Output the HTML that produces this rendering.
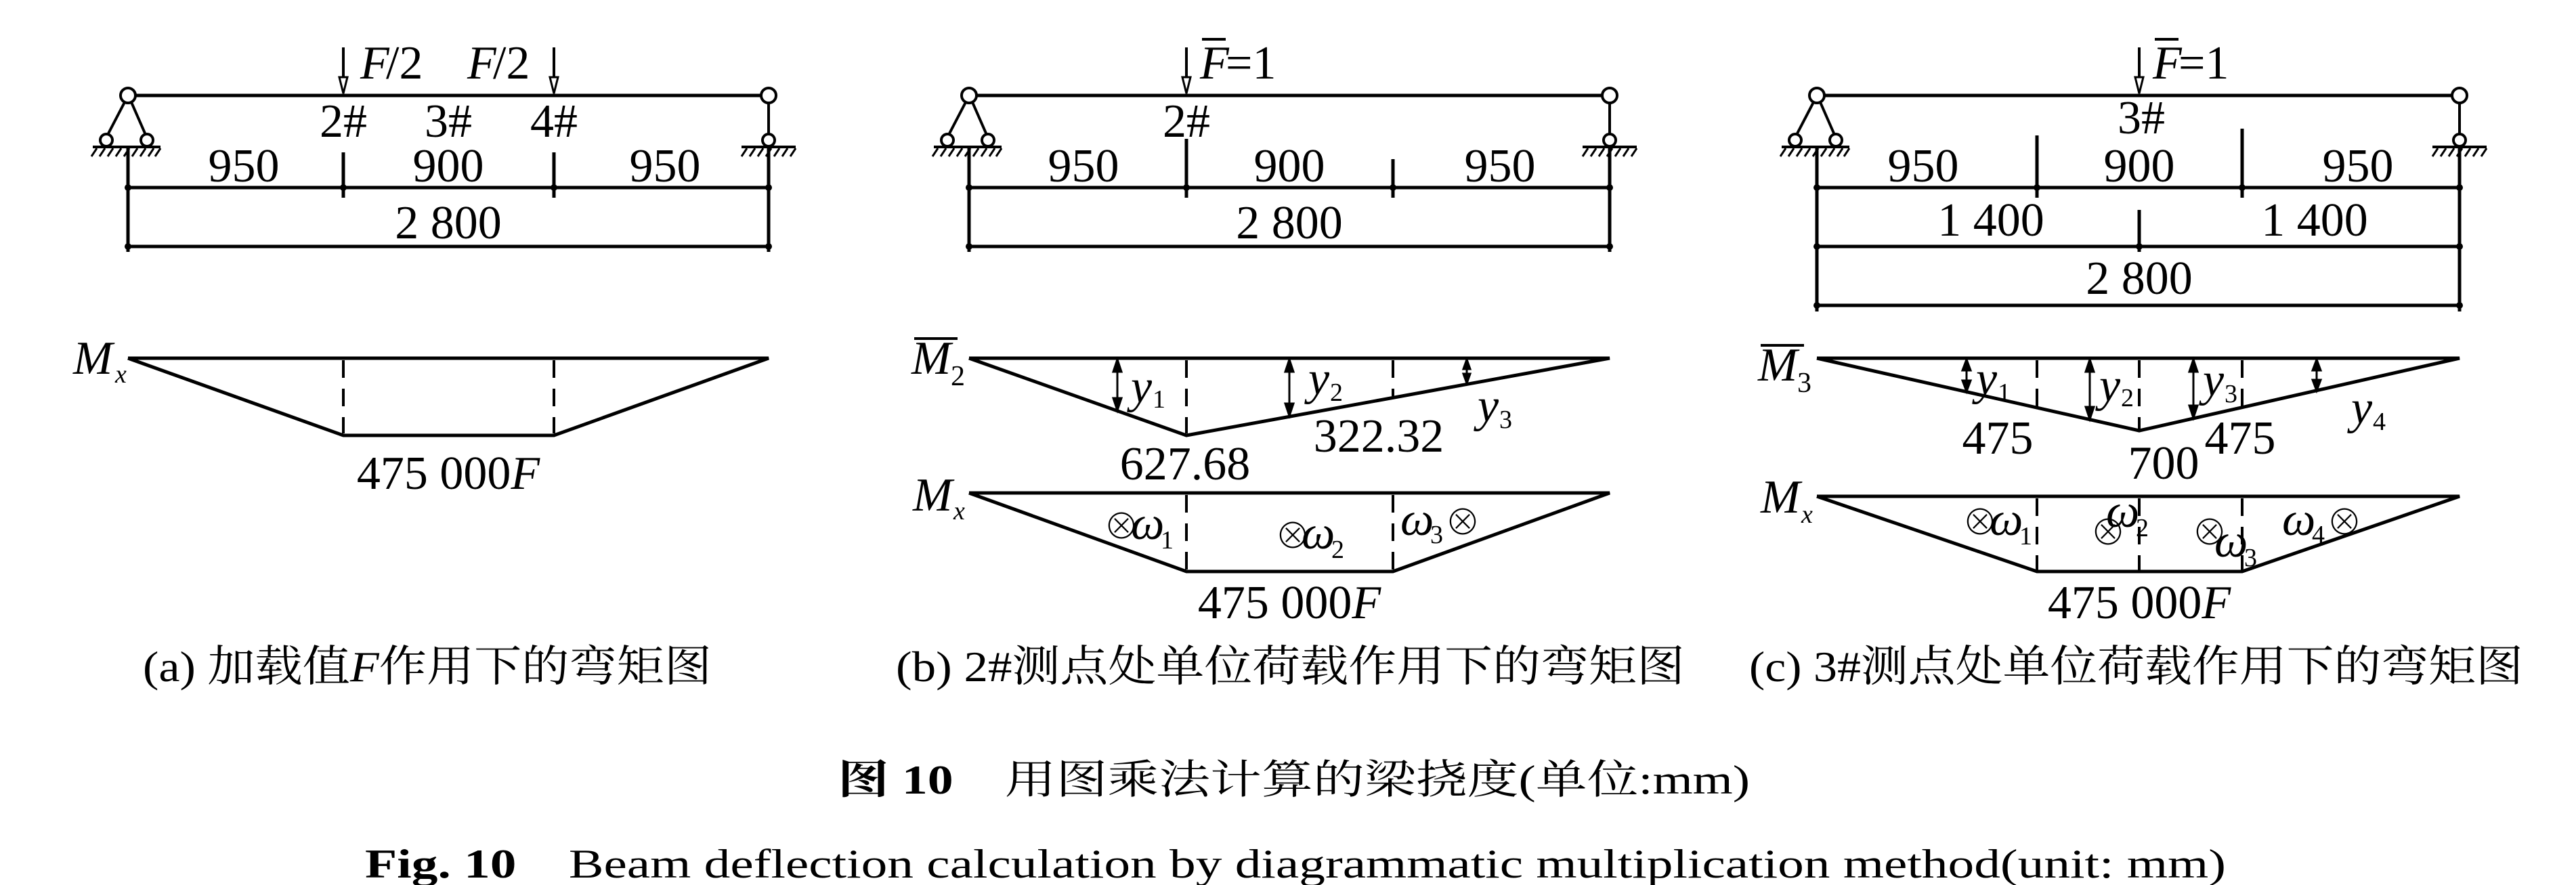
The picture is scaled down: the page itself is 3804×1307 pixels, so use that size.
<!DOCTYPE html>
<html><head><meta charset="utf-8"><style>
html,body{margin:0;padding:0;background:#fff;}
svg{display:block;}
text{font-family:"Liberation Serif","Noto Serif CJK SC",serif;fill:#000;}
.i{font-style:italic;}
</style></head><body>
<svg width="3804" height="1307" viewBox="0 0 3804 1307" xmlns="http://www.w3.org/2000/svg">
<defs>
<g id="pin">
 <circle cx="0" cy="0" r="11" fill="#fff" stroke="#000" stroke-width="4"/>
 <line x1="-5" y1="10" x2="-30" y2="58" stroke="#000" stroke-width="4"/>
 <line x1="5" y1="10" x2="26" y2="58" stroke="#000" stroke-width="4"/>
 <circle cx="-32" cy="66" r="9" fill="#fff" stroke="#000" stroke-width="4"/>
 <circle cx="28" cy="66" r="9" fill="#fff" stroke="#000" stroke-width="4"/>
 <line x1="-52" y1="76" x2="48" y2="76" stroke="#000" stroke-width="4"/>
 <path d="M-46 78 l-8 12 M-34 78 l-8 12 M-22 78 l-8 12 M-10 78 l-8 12 M2 78 l-8 12 M14 78 l-8 12 M26 78 l-8 12 M38 78 l-8 12 M48 78 l-8 12" stroke="#000" stroke-width="3"/>
</g>
<g id="roller">
 <circle cx="0" cy="0" r="11" fill="#fff" stroke="#000" stroke-width="4"/>
 <line x1="0" y1="11" x2="0" y2="56" stroke="#000" stroke-width="4"/>
 <circle cx="0" cy="66" r="9" fill="#fff" stroke="#000" stroke-width="4"/>
 <line x1="-40" y1="76" x2="40" y2="76" stroke="#000" stroke-width="4"/>
 <path d="M-32 78 l-8 12 M-20 78 l-8 12 M-8 78 l-8 12 M4 78 l-8 12 M16 78 l-8 12 M28 78 l-8 12 M40 78 l-8 12" stroke="#000" stroke-width="3"/>
</g>
<g id="arrow">
 <line x1="0" y1="-68" x2="0" y2="-22" stroke="#000" stroke-width="4"/>
 <path d="M-6 -24 L0 0 L6 -24 Z" fill="#fff" stroke="#000" stroke-width="3"/>
</g>
</defs>

<g stroke="#000" stroke-width="5" fill="none">
<line x1="189" y1="141" x2="1135" y2="141"/>
<line x1="189" y1="215" x2="189" y2="372"/>
<line x1="1135" y1="215" x2="1135" y2="372"/>
<line x1="507" y1="225" x2="507" y2="292"/>
<line x1="818" y1="225" x2="818" y2="292"/>
<line x1="189" y1="277" x2="1135" y2="277"/>
<line x1="189" y1="364" x2="1135" y2="364"/>
<polyline points="189,529 1135,529 818,643 507,643 189,529"/>
<line x1="1431" y1="141" x2="2377" y2="141"/>
<line x1="1431" y1="215" x2="1431" y2="372"/>
<line x1="2377" y1="215" x2="2377" y2="372"/>
<line x1="1752" y1="205" x2="1752" y2="292"/>
<line x1="2057" y1="235" x2="2057" y2="292"/>
<line x1="1431" y1="277" x2="2377" y2="277"/>
<line x1="1431" y1="364" x2="2377" y2="364"/>
<polyline points="1431,529 2377,529 1752,643 1431,529"/>
<polyline points="1431,728 2377,728 2057,844 1752,844 1431,728"/>
<line x1="2683" y1="141" x2="3632" y2="141"/>
<line x1="2683" y1="215" x2="2683" y2="460"/>
<line x1="3632" y1="215" x2="3632" y2="460"/>
<line x1="3008" y1="200" x2="3008" y2="292"/>
<line x1="3311" y1="190" x2="3311" y2="292"/>
<line x1="3159" y1="310" x2="3159" y2="372"/>
<line x1="2683" y1="277" x2="3632" y2="277"/>
<line x1="2683" y1="364" x2="3632" y2="364"/>
<line x1="2683" y1="451" x2="3632" y2="451"/>
<polyline points="2683,529 3632,529 3159,636 2683,529"/>
<polyline points="2683,733 3632,733 3311,844 3008,844 2683,733"/>
</g>
<g stroke="#000" stroke-width="4" stroke-dasharray="26,16" fill="none">
<line x1="507" y1="532" x2="507" y2="640"/>
<line x1="818" y1="532" x2="818" y2="640"/>
<line x1="1752" y1="532" x2="1752" y2="640"/>
<line x1="2057" y1="532" x2="2057" y2="585"/>
<line x1="1752" y1="731" x2="1752" y2="842"/>
<line x1="2057" y1="731" x2="2057" y2="842"/>
<line x1="3008" y1="532" x2="3008" y2="600"/>
<line x1="3159" y1="532" x2="3159" y2="634"/>
<line x1="3311" y1="532" x2="3311" y2="605"/>
<line x1="3008" y1="736" x2="3008" y2="842"/>
<line x1="3159" y1="736" x2="3159" y2="842"/>
<line x1="3311" y1="736" x2="3311" y2="842"/>
</g>
<g fill="#000">
<circle cx="189" cy="277" r="5"/><circle cx="507" cy="277" r="5"/><circle cx="818" cy="277" r="5"/><circle cx="1135" cy="277" r="5"/>
<circle cx="189" cy="364" r="5"/><circle cx="1135" cy="364" r="5"/>
<circle cx="1431" cy="277" r="5"/><circle cx="1752" cy="277" r="5"/><circle cx="2057" cy="277" r="5"/><circle cx="2377" cy="277" r="5"/>
<circle cx="1431" cy="364" r="5"/><circle cx="2377" cy="364" r="5"/>
<circle cx="2683" cy="277" r="5"/><circle cx="3008" cy="277" r="5"/><circle cx="3311" cy="277" r="5"/><circle cx="3632" cy="277" r="5"/>
<circle cx="2683" cy="364" r="5"/><circle cx="3159" cy="364" r="5"/><circle cx="3632" cy="364" r="5"/>
<circle cx="2683" cy="451" r="5"/><circle cx="3632" cy="451" r="5"/>
</g>
<use href="#pin" x="189" y="141"/><use href="#roller" x="1135" y="141"/>
<use href="#pin" x="1431" y="141"/><use href="#roller" x="2377" y="141"/>
<use href="#pin" x="2683" y="141"/><use href="#roller" x="3632" y="141"/>
<use href="#arrow" x="507" y="138"/><use href="#arrow" x="818" y="138"/>
<use href="#arrow" x="1752" y="138"/><use href="#arrow" x="3159" y="138"/>

<g stroke="#000" stroke-width="3" fill="#000">
<line x1="1650" y1="533" x2="1650" y2="603"/><path d="M1650 531 l-6 18 h12z M1650 606 l-6 -18 h12z"/>
<line x1="1904" y1="533" x2="1904" y2="611"/><path d="M1904 531 l-6 18 h12z M1904 614 l-6 -18 h12z"/>
<line x1="2166" y1="533" x2="2166" y2="563"/><path d="M2166 531 l-5 14 h10z M2166 566 l-5 -14 h10z"/>
<line x1="2904" y1="533" x2="2904" y2="575"/><path d="M2904 531 l-6 16 h12z M2904 578 l-6 -16 h12z"/>
<line x1="3086" y1="533" x2="3086" y2="616"/><path d="M3086 531 l-6 18 h12z M3086 619 l-6 -18 h12z"/>
<line x1="3239" y1="533" x2="3239" y2="614"/><path d="M3239 531 l-6 18 h12z M3239 617 l-6 -18 h12z"/>
<line x1="3421" y1="533" x2="3421" y2="574"/><path d="M3421 531 l-6 16 h12z M3421 577 l-6 -16 h12z"/>
</g>

<g font-size="70">
<text x="532" y="116" class="i">F</text><text x="570" y="116">/2</text>
<text x="690" y="116" class="i">F</text><text x="728" y="116">/2</text>
<text x="507" y="202" text-anchor="middle">2#</text>
<text x="662" y="202" text-anchor="middle">3#</text>
<text x="818" y="202" text-anchor="middle">4#</text>
<text x="360" y="268" text-anchor="middle">950</text>
<text x="662" y="268" text-anchor="middle">900</text>
<text x="982" y="268" text-anchor="middle">950</text>
<text x="662" y="352" text-anchor="middle">2 800</text>
<text x="662" y="722" text-anchor="middle">475 000<tspan class="i">F</tspan></text>
<text x="108" y="552" class="i">M</text><text x="170" y="565" class="i" font-size="38">x</text>
</g>
<g font-size="70">
<text x="1772" y="116" class="i">F</text><text x="1810" y="116">=1</text>
<line x1="1775" y1="58" x2="1810" y2="58" stroke="#000" stroke-width="4"/>
<text x="1752" y="202" text-anchor="middle">2#</text>
<text x="1600" y="268" text-anchor="middle">950</text>
<text x="1904" y="268" text-anchor="middle">900</text>
<text x="2215" y="268" text-anchor="middle">950</text>
<text x="1904" y="352" text-anchor="middle">2 800</text>
<text x="1346" y="552" class="i">M</text><text x="1404" y="569" font-size="42">2</text>
<line x1="1350" y1="500" x2="1414" y2="500" stroke="#000" stroke-width="4"/>
<text x="1670" y="594" class="i">y</text><text x="1702" y="602" font-size="38">1</text>
<text x="1932" y="582" class="i">y</text><text x="1964" y="592" font-size="38">2</text>
<text x="2182" y="622" class="i">y</text><text x="2214" y="632" font-size="38">3</text>
<text x="1750" y="708" text-anchor="middle">627.68</text>
<text x="2036" y="667" text-anchor="middle">322.32</text>
<text x="1348" y="754" class="i">M</text><text x="1408" y="767" class="i" font-size="38">x</text>
<text x="1630" y="796" font-size="52">⊗</text><text x="1670" y="796" class="i">ω</text><text x="1714" y="810" font-size="38">1</text>
<text x="1883" y="810" font-size="52">⊗</text><text x="1922" y="810" class="i">ω</text><text x="1966" y="824" font-size="38">2</text>
<text x="2068" y="790" class="i">ω</text><text x="2112" y="802" font-size="38">3</text><text x="2134" y="790" font-size="52">⊗</text>
<text x="1904" y="913" text-anchor="middle">475 000<tspan class="i">F</tspan></text>
</g>
<g font-size="70">
<text x="3179" y="116" class="i">F</text><text x="3217" y="116">=1</text>
<line x1="3182" y1="58" x2="3217" y2="58" stroke="#000" stroke-width="4"/>
<text x="3162" y="197" text-anchor="middle">3#</text>
<text x="2840" y="268" text-anchor="middle">950</text>
<text x="3159" y="268" text-anchor="middle">900</text>
<text x="3482" y="268" text-anchor="middle">950</text>
<text x="2940" y="348" text-anchor="middle">1 400</text>
<text x="3418" y="348" text-anchor="middle">1 400</text>
<text x="3159" y="434" text-anchor="middle">2 800</text>
<text x="2596" y="562" class="i">M</text><text x="2654" y="579" font-size="42">3</text>
<line x1="2600" y1="510" x2="2664" y2="510" stroke="#000" stroke-width="4"/>
<text x="2918" y="582" class="i">y</text><text x="2950" y="592" font-size="38">1</text>
<text x="3100" y="592" class="i">y</text><text x="3132" y="600" font-size="38">2</text>
<text x="3253" y="584" class="i">y</text><text x="3285" y="594" font-size="38">3</text>
<text x="3472" y="625" class="i">y</text><text x="3504" y="635" font-size="38">4</text>
<text x="2950" y="670" text-anchor="middle">475</text>
<text x="3195" y="707" text-anchor="middle">700</text>
<text x="3308" y="670" text-anchor="middle">475</text>
<text x="2600" y="757" class="i">M</text><text x="2660" y="772" class="i" font-size="38">x</text>
<text x="2898" y="790" font-size="52">⊗</text><text x="2938" y="790" class="i">ω</text><text x="2982" y="804" font-size="38">1</text>
<text x="3087" y="805" font-size="52">⊗</text><text x="3110" y="778" class="i">ω</text><text x="3154" y="792" font-size="38">2</text>
<text x="3237" y="805" font-size="52">⊗</text><text x="3270" y="822" class="i">ω</text><text x="3314" y="836" font-size="38">3</text>
<text x="3370" y="790" class="i">ω</text><text x="3414" y="802" font-size="38">4</text><text x="3436" y="790" font-size="52">⊗</text>
<text x="3159" y="913" text-anchor="middle">475 000<tspan class="i">F</tspan></text>
</g>

<g font-size="64">
<text x="211" y="1006" textLength="840" lengthAdjust="spacingAndGlyphs">(a) 加载值<tspan class="i">F</tspan>作用下的弯矩图</text>
<text x="1323" y="1006" textLength="1165" lengthAdjust="spacingAndGlyphs">(b) 2#测点处单位荷载作用下的弯矩图</text>
<text x="2583" y="1006" textLength="1143" lengthAdjust="spacingAndGlyphs">(c) 3#测点处单位荷载作用下的弯矩图</text>
<text x="1237" y="1172" textLength="1347" lengthAdjust="spacingAndGlyphs" font-size="60"><tspan font-weight="bold">图 10</tspan>　用图乘法计算的梁挠度(单位:mm)</text>
<text x="539" y="1296" textLength="2748" lengthAdjust="spacingAndGlyphs" font-size="60"><tspan font-weight="bold">Fig. 10</tspan>　Beam deflection calculation by diagrammatic multiplication method(unit: mm)</text>
</g>
</svg>
</body></html>
